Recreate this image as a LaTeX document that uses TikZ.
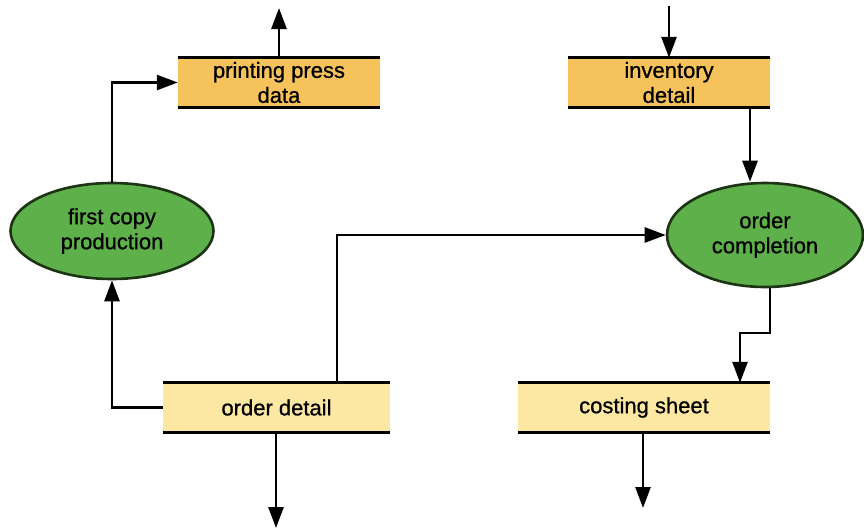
\documentclass[tikz,border=0pt]{standalone}
\usepackage{fontspec}
\setmainfont{Liberation Sans}
\newfontfamily\lblfont{Liberation Sans}[RawFeature={embolden=0.8}]
\usetikzlibrary{shapes.geometric,arrows.meta}
\definecolor{storeA}{RGB}{246,194,92}
\definecolor{storeB}{RGB}{252,232,162}
\definecolor{procG}{RGB}{94,176,74}
\definecolor{procB}{RGB}{28,52,20}
\tikzset{
  storebox/.style={fill=#1, minimum width=202pt, minimum height=49pt, inner sep=0pt, align=center,
    font=\lblfont\fontsize{22}{25}\selectfont},
  process/.style={ellipse, fill=procG, draw=procB, line width=2.6pt, inner sep=0pt, align=center,
    font=\lblfont\fontsize{22}{25}\selectfont},
  arr/.style={line width=2.7pt, -{Triangle[length=21pt,width=15pt]}},
  storeline/.style={line width=3pt}
}
\begin{document}
\begin{tikzpicture}[x=1pt,y=-1pt]
\useasboundingbox (0,0) rectangle (864,530);
% data stores
\node[storebox=storeA] (pp) at (279,82.5) {printing press\\data};
\node[storebox=storeA] (inv) at (669,82.5) {inventory\\detail};
\node[storebox=storeB, minimum width=227pt] (od) at (276.5,407.5) {order detail};
\node[storebox=storeB, minimum width=252pt] (cs) at (644,407.5) {costing sheet};
\foreach \n in {pp,inv,od,cs}{
  \draw[storeline] (\n.north west) -- (\n.north east);
  \draw[storeline] (\n.south west) -- (\n.south east);
}
% processes
\node[process, minimum width=203pt, minimum height=96pt] (fc) at (112,231) {first copy\\production};
\node[process, minimum width=196pt, minimum height=104pt] (oc) at (765,235) {order\\completion};
% free ends
\coordinate (ppout) at (279,8);
\coordinate (invin) at (669,6);
\coordinate (odout) at (276,528);
\coordinate (csout) at (643,508);
% connectors
\draw[arr] (pp.north) -- (ppout);
\draw[arr] (invin) -- (inv.north);
\draw[arr] (inv.south -| 750,0) -- (oc.north -| 750,0);
\draw[arr] (fc.north) |- (pp.west);
\draw[arr] (od.west) -| (fc.south);
\draw[arr] (od.north -| 337,0) |- (oc.west);
\draw[arr] (od.south -| odout) -- (odout);
\draw[arr] (cs.south -| csout) -- (csout);
\draw[arr] (oc.south -| 770,0) -- (770,333) -- (740,333) -- (cs.north -| 740,0);
\end{tikzpicture}
\end{document}
